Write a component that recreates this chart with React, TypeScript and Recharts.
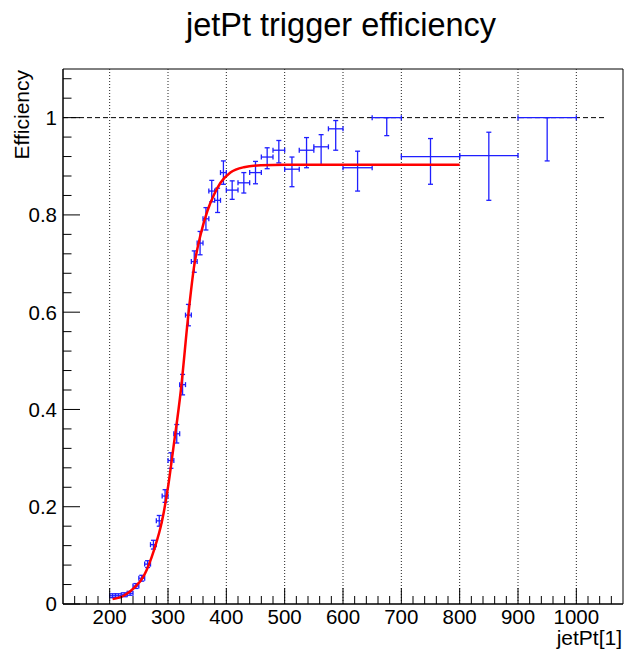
import React from 'react'
import { ComposedChart, XAxis, YAxis, Scatter, Line, ErrorBar, ReferenceLine, ReferenceArea } from 'recharts'

const FONT = "'Liberation Sans', Arial, Helvetica, sans-serif"
const POINT_COLOR = '#1f1fff'
const FIT_COLOR = '#ff0000'

// bin centres, half widths and efficiency
const binCenters = [
  205, 215, 225, 235, 245, 255, 265, 275, 285, 295, 305, 315, 325, 335, 345, 355, 365, 375, 385, 395,
  410, 430, 450, 470, 490, 512.5, 537.5, 562.5, 587.5, 625, 675, 750, 850, 950,
]
const binHalfWidths = [
  5, 5, 5, 5, 5, 5, 5, 5, 5, 5, 5, 5, 5, 5, 5, 5, 5, 5, 5, 5,
  10, 10, 10, 10, 10, 12.5, 12.5, 12.5, 12.5, 25, 25, 50, 50, 50,
]
const efficiency = [
  0.017, 0.017, 0.019, 0.022, 0.037, 0.053, 0.082, 0.122, 0.171, 0.222, 0.295, 0.35, 0.451, 0.594, 0.704,
  0.742, 0.792, 0.849, 0.83, 0.887, 0.851, 0.866, 0.887, 0.919, 0.933, 0.894, 0.933, 0.94, 0.977, 0.897,
  1.0, 0.92, 0.922, 1.0,
]
const errDown = [
  0.004, 0.004, 0.004, 0.004, 0.005, 0.006, 0.007, 0.009, 0.011, 0.013, 0.016, 0.019, 0.021, 0.022, 0.022,
  0.024, 0.023, 0.022, 0.025, 0.024, 0.019, 0.021, 0.023, 0.024, 0.026, 0.036, 0.036, 0.037, 0.044, 0.048,
  0.037, 0.057, 0.092, 0.089,
]
const errUp = [
  0.004, 0.004, 0.004, 0.004, 0.005, 0.006, 0.007, 0.009, 0.011, 0.013, 0.016, 0.019, 0.021, 0.022, 0.022,
  0.024, 0.023, 0.022, 0.025, 0.024, 0.019, 0.021, 0.023, 0.019, 0.02, 0.025, 0.026, 0.025, 0.017, 0.034,
  0, 0.037, 0.048, 0,
]

// fit curve
const fitX = [205, 224, 241, 259, 276, 290, 301, 309, 322, 335, 344.5, 356, 367.5, 379, 390, 407, 430, 459, 500, 800]
const fitY = [
  0.01, 0.017, 0.032, 0.059, 0.111, 0.172, 0.248, 0.319, 0.439, 0.596, 0.692, 0.76, 0.808, 0.842, 0.866,
  0.887, 0.898, 0.902, 0.903, 0.903,
]

const xMajorTicks = [200, 300, 400, 500, 600, 700, 800, 900, 1000]
const yMajorLabels = ['0', '0.2', '0.4', '0.6', '0.8', '1']

const xTicks: number[] = []
for (let v = 140; v <= 1060; v += 20) xTicks.push(v)
const yTicks: number[] = []
for (let i = 0; i <= 27; i++) yTicks.push(i * 0.04)

const points = binCenters.map((x, i) => ({
  x,
  y: efficiency[i],
  ex: binHalfWidths[i],
  ey: [errDown[i], errUp[i]],
}))
const fitData = fitX.map((x, i) => ({ x, y: fitY[i] }))

const XTick = (props: any) => {
  const { x, y, payload } = props
  const v = payload.value
  const major = xMajorTicks.includes(v)
  return (
    <g>
      <line x1={x} x2={x} y1={y} y2={y - (major ? 16 : 8)} stroke="#000" strokeWidth={1} />
      {major && (
        <text x={x} y={y + 20} textAnchor="middle" fontSize={20.5} fontFamily={FONT} fill="#000">
          {v}
        </text>
      )}
    </g>
  )
}

const YTick = (props: any) => {
  const { x, y, index } = props
  const major = index % 5 === 0
  return (
    <g>
      <line x1={x} x2={x + (major ? 17 : 8.5)} y1={y} y2={y} stroke="#000" strokeWidth={1} />
      {major && (
        <text x={x - 6} y={y} dy="0.36em" textAnchor="end" fontSize={20.5} fontFamily={FONT} fill="#000">
          {yMajorLabels[index / 5]}
        </text>
      )}
    </g>
  )
}

const NoMarker = () => <g />

export default function App() {
  return (
    <div style={{ position: 'absolute', left: 0, top: 0, width: 627, height: 654, background: '#fff' }}>
      <ComposedChart width={627} height={654} margin={{ top: 69, right: 4, bottom: 0, left: 0 }}>
        <XAxis
          type="number"
          dataKey="x"
          domain={[120, 1080]}
          allowDataOverflow
          ticks={xTicks}
          interval={0}
          height={50}
          tickSize={0}
          tickMargin={0}
          tickLine={false}
          axisLine={{ stroke: '#000' }}
          tick={XTick}
        />
        <YAxis
          type="number"
          domain={[0, 1.1]}
          allowDataOverflow
          ticks={yTicks}
          interval={0}
          width={63}
          tickSize={0}
          tickMargin={0}
          tickLine={false}
          axisLine={{ stroke: '#000' }}
          tick={YTick}
        />
        {xMajorTicks.map((v) => (
          <ReferenceLine key={v} x={v} stroke="#222" strokeDasharray="1 2" strokeWidth={1} />
        ))}
        <ReferenceLine
          segment={[{ x: 120, y: 1 }, { x: 1050, y: 1 }]}
          stroke="#000"
          strokeDasharray="5 3"
          strokeWidth={1}
        />
        <ReferenceArea x1={120} x2={1080} y1={0} y2={1.1} fill="none" stroke="#000" strokeWidth={1} />
        <Scatter data={points} dataKey="y" shape={NoMarker} isAnimationActive={false}>
          <ErrorBar dataKey="ex" direction="x" width={2.5} stroke={POINT_COLOR} strokeWidth={1.3} />
          <ErrorBar dataKey="ey" direction="y" width={2.5} stroke={POINT_COLOR} strokeWidth={1.3} />
        </Scatter>
        <Line
          data={fitData}
          dataKey="y"
          type="monotone"
          dot={false}
          stroke={FIT_COLOR}
          strokeWidth={2.5}
          isAnimationActive={false}
        />
      </ComposedChart>
      <svg
        width={627}
        height={654}
        style={{ position: 'absolute', left: 0, top: 0, pointerEvents: 'none' }}
        fontFamily={FONT}
      >
        <text x={341} y={36} textAnchor="middle" fontSize={32.5} fill="#000">
          jetPt trigger efficiency
        </text>
        <text x={622} y={645} textAnchor="end" fontSize={21} fill="#000">
          jetPt[1]
        </text>
        <text x={29} y={70} transform="rotate(-90, 29, 70)" textAnchor="end" fontSize={21} fill="#000">
          Efficiency
        </text>
      </svg>
    </div>
  )
}
